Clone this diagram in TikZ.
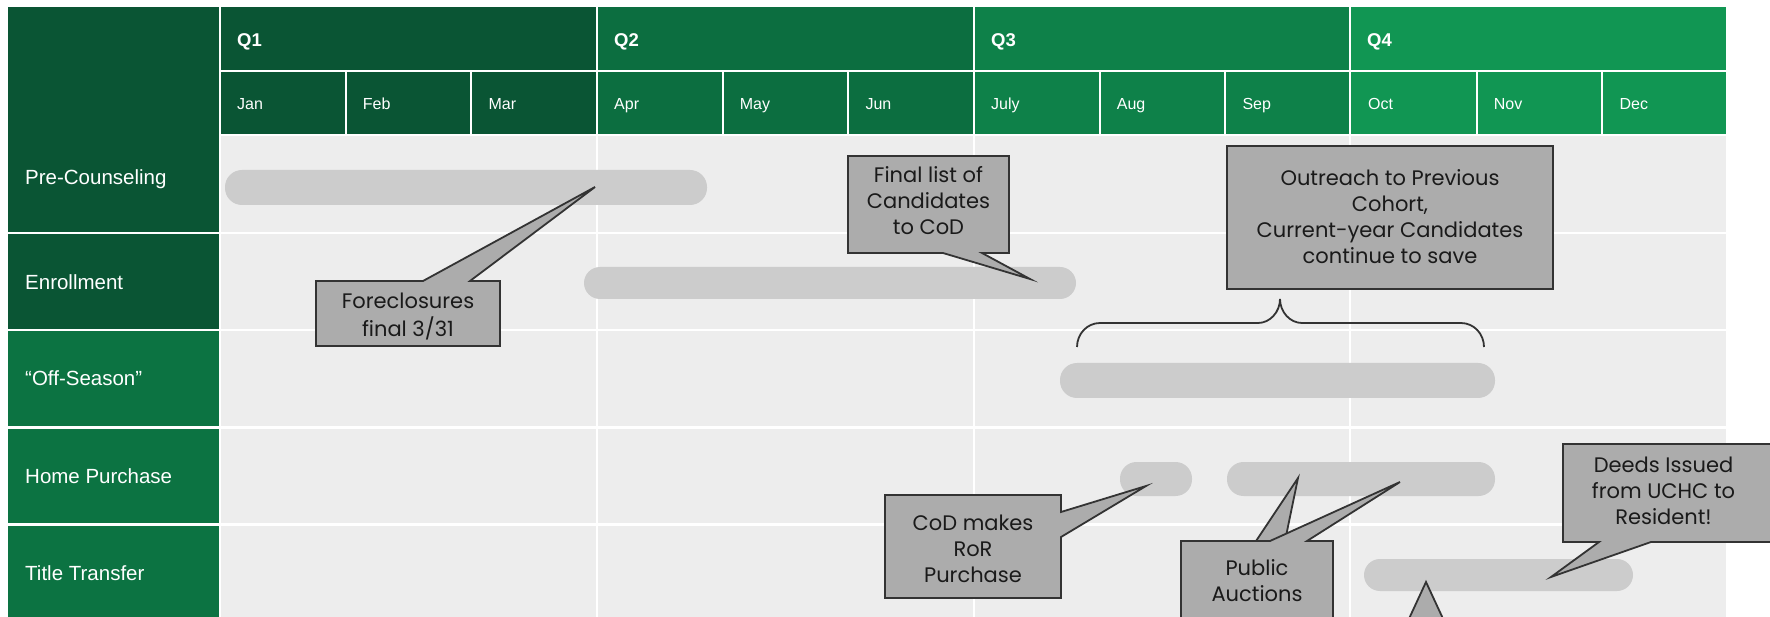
\documentclass[tikz,border=0pt]{standalone}
\usepackage{fontspec}
\setmainfont{Liberation Sans}
\newfontfamily\callfont{Poppins}
\definecolor{qone}{HTML}{0A5534}
\definecolor{qtwo}{HTML}{0C6E40}
\definecolor{qthree}{HTML}{0E8149}
\definecolor{qfour}{HTML}{119653}
\definecolor{lowc}{HTML}{0C7342}
\definecolor{bodyc}{HTML}{EDEDED}
\definecolor{barc}{HTML}{CCCCCC}
\definecolor{callc}{HTML}{ACACAC}
\definecolor{bordc}{HTML}{333333}
\definecolor{ctextc}{HTML}{1A1A1A}
\begin{document}
\begin{tikzpicture}[x=1pt,y=-1pt,
  hdr/.style={text=white, anchor=west, inner sep=0pt, text height=13.2pt, text depth=0pt, font=\fontsize{18.5}{22}\selectfont\bfseries},
  mon/.style={text=white, anchor=west, inner sep=0pt, text height=11.5pt, text depth=0pt, font=\fontsize{16}{19}\selectfont},
  rowlab/.style={text=white, anchor=west, inner sep=0pt, text height=14.7pt, text depth=0pt, font=\fontsize{20.5}{24}\selectfont},
  bar/.style={fill=barc, draw=none, rounded corners=16pt, inner sep=0pt},
  callout/.style={fill=callc, draw=bordc, line width=1.8pt, line join=miter},
  ctext/.style={align=center, text=ctextc, inner sep=0pt, font=\callfont\fontsize{21}{26}\selectfont},
  gridline/.style={white, line width=2.2pt},
  bracestyle/.style={draw=bordc, line width=1.8pt},
]
\useasboundingbox (0,0) rectangle (1770,617);
\begin{scope}
\clip (0,0) rectangle (1770,617);
% left column
\fill[qone] (8,7) rectangle (220,233.3);
\fill[qone] (8,233.3) rectangle (220,330.2);
\fill[lowc] (8,330.2) rectangle (220,640);
% header quarters
\fill[qone] (220,7) rectangle (597,135);
\fill[qtwo] (597,7) rectangle (974,135);
\fill[qthree] (974,7) rectangle (1350,135);
\fill[qfour] (1350,7) rectangle (1726,135);
% body
\fill[bodyc] (220,135) rectangle (1726,640);
% white grid lines
\draw[gridline] (220,7) -- (220,640);
\foreach \xx in {597,974,1350} {\draw[gridline] (\xx,7) -- (\xx,640);}
\draw[gridline] (220,71) -- (1726,71);
\draw[gridline] (220,135) -- (1726,135);
\foreach \yy in {233.3,330.2,427.6,524.5} {\draw[gridline] (8,\yy) -- (1726,\yy);}
\foreach \k in {1,2,4,5,7,8,10,11} {\draw[gridline] (220+125.67*\k,71) -- (220+125.67*\k,135);}
% header texts
\node[hdr] (q1) at (237,40) {Q1};
\node[hdr] (q2) at (614,40) {Q2};
\node[hdr] (q3) at (991,40) {Q3};
\node[hdr] (q4) at (1367,40) {Q4};
\foreach \k/\mname in {0/Jan,1/Feb,2/Mar,3/Apr,4/May,5/Jun,6/July,7/Aug,8/Sep,9/Oct,10/Nov,11/Dec}
  {\node[mon] (m\k) at (237+125.67*\k,104) {\mname};}
% row labels
\node[rowlab] (rpc) at (25,177) {Pre-Counseling};
\node[rowlab] (ren) at (25,282) {Enrollment};
\node[rowlab] (ros) at (25,378) {“Off-Season”};
\node[rowlab] (rhp) at (25,476) {Home Purchase};
\node[rowlab] (rtt) at (25,573) {Title Transfer};
% bars
\node[bar, minimum width=482pt, minimum height=35pt, rounded corners=17pt] (barpc) at (466,187.5) {};
\node[bar, minimum width=492pt, minimum height=32pt] (baren) at (830,283) {};
\node[bar, minimum width=435pt, minimum height=35pt, rounded corners=17pt] (baros) at (1277.5,380.5) {};
\node[bar, minimum width=72pt, minimum height=34pt, rounded corners=16.5pt] (barhpa) at (1156,479) {};
\node[bar, minimum width=268pt, minimum height=34pt, rounded corners=16.5pt] (barhpb) at (1361,479) {};
\node[bar, minimum width=269pt, minimum height=32pt] (bartt) at (1498.5,575) {};
% brace under outreach box
\draw[bracestyle] (1077,347) .. controls (1077,334) and (1087,323) .. (1100,323)
  -- (1258,323) .. controls (1270,323) and (1280,312) .. (1280,299)
  .. controls (1280,312) and (1290,323) .. (1302,323)
  -- (1461,323) .. controls (1474,323) and (1484,334) .. (1484,347);
% tips
\coordinate (tipfc) at (595,187);
\coordinate (tipfl) at (1030,279);
\coordinate (tipcod) at (1146,486);
\coordinate (tippa) at (1298,478);
\coordinate (tippb) at (1400,482);
\coordinate (tipdi) at (1551,577);
\coordinate (tipbot) at (1426,582);
% callouts
\draw[callout] (316,281) -- (423,281) -- (tipfc) -- (470,281) -- (500,281) -- (500,346) -- (316,346) -- cycle;
\node[ctext] (fctext) at (408,317.3) {\strut Foreclosures\\final 3/31\strut};
\draw[callout] (848,156) -- (1009,156) -- (1009,253) -- (982,253) -- (tipfl) -- (943,253) -- (848,253) -- cycle;
\node[ctext] (fltext) at (928.5,203) {\strut Final list of\\Candidates\\to CoD\strut};
\draw[callout] (1227,146) rectangle (1553,289);
\node[ctext] (ortext) at (1390,219) {\strut Outreach to Previous\\Cohort,\\Current-year Candidates\\continue to save\strut};
\draw[callout] (885,495) -- (1061,495) -- (1061,512) -- (tipcod) -- (1061,537) -- (1061,598) -- (885,598) -- cycle;
\node[ctext] (codtext) at (973,551) {\strut CoD makes\\RoR\\Purchase\strut};
\draw[callout] (1181,541) -- (1256,541) -- (tippa) -- (1285,541) -- (1333,541) -- (1333,650) -- (1181,650) -- cycle;
\draw[callout] (1181,541) -- (1270,541) -- (tippb) -- (1307,541) -- (1333,541) -- (1333,650) -- (1181,650) -- cycle;
\node[ctext] (patext) at (1257,583) {\strut Public\\Auctions\strut};
\draw[callout] (1563,444) -- (1790,444) -- (1790,542) -- (1651,542) -- (tipdi) -- (1599,542) -- (1563,542) -- cycle;
\node[ctext] (ditext) at (1663.5,493.3) {\strut Deeds Issued\\from UCHC to\\Resident!\strut};
\draw[callout] (1394.5,650) -- (tipbot) -- (1457.5,650) -- cycle;
\end{scope}
\end{tikzpicture}
\end{document}
